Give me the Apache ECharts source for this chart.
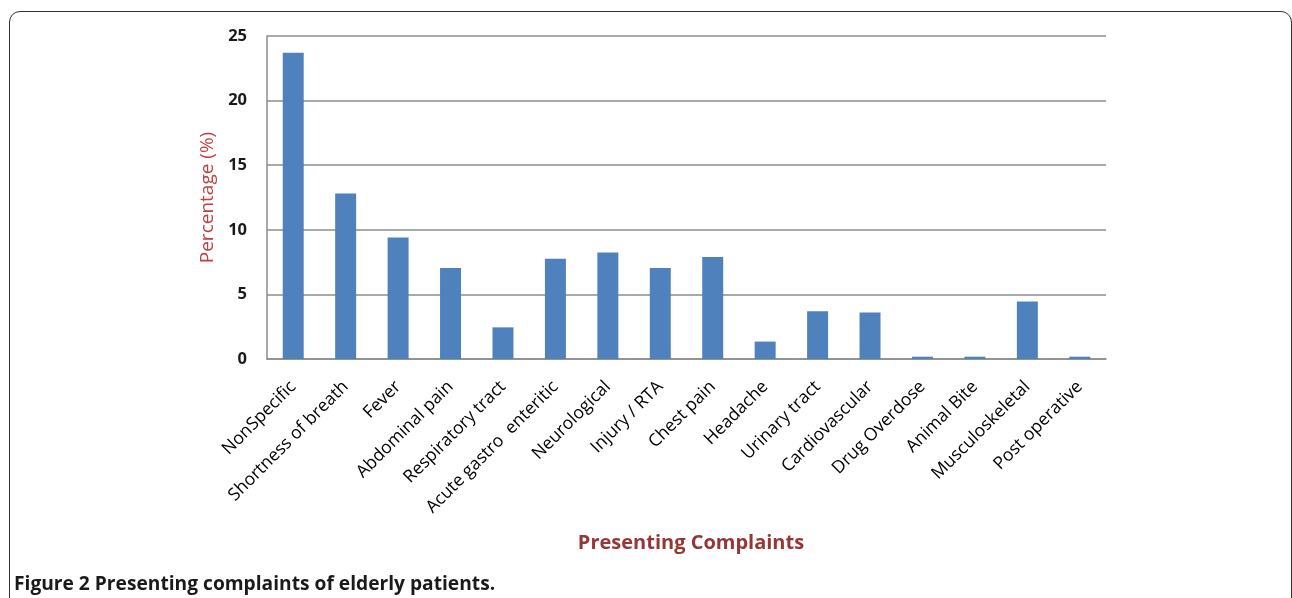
<!DOCTYPE html>
<html>
<head>
<meta charset="utf-8">
<script src="https://cdn.jsdelivr.net/npm/echarts@6/dist/echarts.min.js"></script>
<style>
  html, body { margin: 0; padding: 0; background: #fff; overflow: hidden; }
  #frame { position: absolute; left: 9px; top: 11px; width: 1283px; height: 640px; box-sizing: border-box;
           border: 1.5px solid #333; border-radius: 11px; }
  #chart { position: absolute; left: 0; top: 0; width: 1292px; height: 598px; }
</style>
</head>
<body>
<div id="frame"></div>
<div id="chart"></div>
<script>
const categories = ["NonSpecific", "Shortness of breath", "Fever", "Abdominal pain", "Respiratory tract",
  "Acute gastro  enteritic", "Neurological", "Injury / RTA", "Chest pain", "Headache", "Urinary tract",
  "Cardiovascular", "Drug Overdose", "Animal Bite", "Musculoskeletal", "Post operative"];
const percentages = [23.7, 12.8, 9.4, 7.05, 2.45, 7.75, 8.25, 7.05, 7.9, 1.35, 3.7, 3.6, 0.18, 0.18, 4.45, 0.18];
const yTicks = { min: 0, max: 25, interval: 5 };
const yAxisTitle = "Percentage (%)";
const xAxisTitle = "Presenting Complaints";
const captionBold = "Figure 2";
const captionText = " Presenting complaints of elderly patients.";

const chart = echarts.init(document.getElementById('chart'), null, { renderer: 'canvas' });
chart.setOption({
  backgroundColor: 'transparent',
  animation: false,
  textStyle: { fontFamily: 'Open Sans' },
  title: [
    {
      text: xAxisTitle, left: 686, top: 528, textAlign: 'center',
      textStyle: { fontFamily: 'Open Sans', fontSize: 20, fontWeight: 'bold', color: '#953735' }
    },
    {
      text: '{b|' + captionBold + '}{r|' + captionText + '}', left: 9, top: 570,
      textStyle: { rich: {
        b: { fontFamily: 'Open Sans', fontSize: 19.2, fontWeight: 'bold', color: '#1a1a1a' },
        r: { fontFamily: 'Open Sans', fontSize: 19.2, color: '#1a1a1a' }
      } }
    }
  ],
  grid: { left: 267, right: 186, top: 36, bottom: 239, containLabel: false },
  xAxis: {
    type: 'category',
    data: categories,
    axisLine: { lineStyle: { color: '#8c8c8c', width: 1.5 } },
    axisTick: { show: false },
    axisLabel: { rotate: 45, interval: 0, margin: 25,
                 fontFamily: 'Open Sans', fontSize: 17.5, color: '#000' }
  },
  yAxis: {
    type: 'value', min: yTicks.min, max: yTicks.max, interval: yTicks.interval,
    name: yAxisTitle, nameLocation: 'middle', nameGap: 49, nameRotate: 90,
    nameTextStyle: { fontFamily: 'Open Sans', fontSize: 19, color: '#c0413d' },
    axisLine: { show: true, lineStyle: { color: '#8c8c8c', width: 1.5 } },
    axisTick: { show: false },
    splitLine: { lineStyle: { color: '#8c8c8c', width: 1.5 } },
    axisLabel: { margin: 20, fontFamily: 'Open Sans', fontSize: 16.5, fontWeight: 'bold', color: '#1a1a1a' }
  },
  series: [{
    type: 'bar',
    data: percentages,
    barWidth: '40%',
    itemStyle: { color: '#4f81bd' }
  }]
});
</script>
</body>
</html>
